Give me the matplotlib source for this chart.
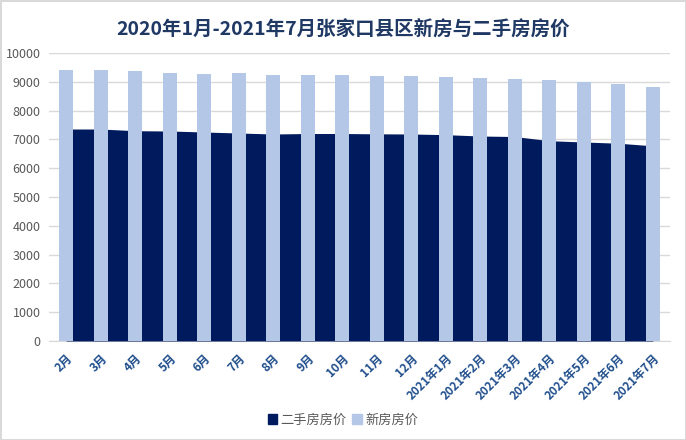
import numpy as np
import matplotlib
matplotlib.use("Agg")
import matplotlib.pyplot as plt

plt.rcParams['font.family'] = ['Noto Sans CJK SC', 'DejaVu Sans']

months = ['2月', '3月', '4月', '5月', '6月', '7月', '8月', '9月', '10月', '11月', '12月',
          '2021年1月', '2021年2月', '2021年3月', '2021年4月', '2021年5月', '2021年6月', '2021年7月']
new_price = [9410, 9410, 9375, 9306, 9270, 9306, 9236, 9236, 9236, 9201, 9201,
             9167, 9132, 9097, 9063, 8993, 8924, 8819]
second_price = [7361, 7361, 7302, 7292, 7257, 7222, 7188, 7205, 7205, 7194, 7188,
                7165, 7118, 7100, 6955, 6910, 6868, 6778]

navy = '#001A5E'
light = '#B4C7E7'

fig = plt.figure(figsize=(6.86, 4.40), dpi=100)
fig.patch.set_edgecolor('#D9D9D9')
fig.patch.set_linewidth(2)
ax = fig.add_axes([0.0714, 0.225, 0.9053, 0.6545])

x = np.arange(len(months))
ax.fill_between(x, second_price, color=navy, zorder=2, linewidth=0)
ax.bar(x, new_price, width=0.41, color=light, zorder=3)

ax.set_xlim(-0.5, len(months) - 0.5)
ax.set_ylim(0, 10000)
ax.set_yticks(np.arange(0, 10001, 1000))
ax.yaxis.grid(True, color='#D9D9D9', linewidth=1)
ax.set_axisbelow(True)
for s in ['top', 'right', 'left']:
    ax.spines[s].set_visible(False)
ax.spines['bottom'].set_color('#D9D9D9')
ax.spines['bottom'].set_zorder(1)
ax.tick_params(axis='both', length=0)
ax.tick_params(axis='y', labelsize=9, labelcolor='#595959', pad=6)
ax.set_xticks(x)
ax.set_xticklabels(months, rotation=45, ha='right', rotation_mode='anchor',
                   fontsize=8.5, fontweight='bold', color='#1F4E8C')
ax.tick_params(axis='x', pad=8)

fig.text(0.5, 0.932, '2020年1月-2021年7月张家口县区新房与二手房房价', ha='center', va='center',
         fontsize=14, fontweight='bold', color='#1F3864')

handles = [plt.Rectangle((0, 0), 1, 1, color=navy), plt.Rectangle((0, 0), 1, 1, color=light)]
fig.legend(handles, ['二手房房价', '新房房价'], loc='center', bbox_to_anchor=(0.5, 0.045),
           ncol=2, frameon=False, fontsize=9.5, labelcolor='#595959',
           handlelength=0.7, handleheight=0.7, handletextpad=0.3, columnspacing=0.4)

fig.savefig('out.png', dpi=100)
